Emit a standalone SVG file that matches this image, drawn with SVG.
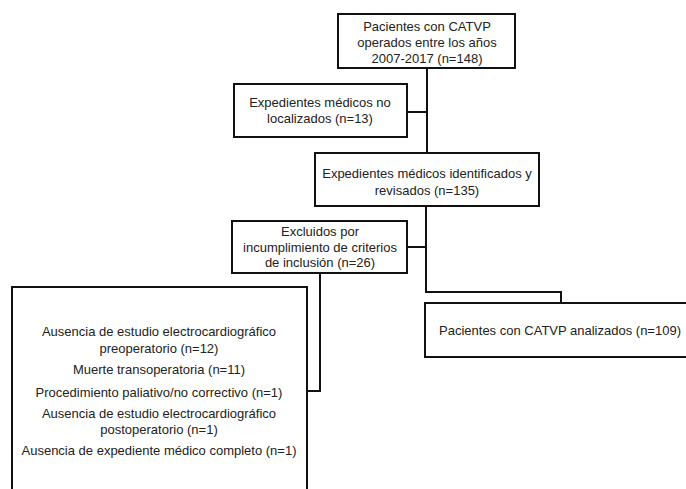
<svg xmlns="http://www.w3.org/2000/svg" width="686" height="489" viewBox="0 0 686 489">
<style>
.box{fill:#fff;stroke:#111;stroke-width:2}
.ln{fill:none;stroke:#111;stroke-width:2}
text{font-family:"Liberation Sans",Arial,sans-serif;font-size:13px;fill:#222;text-anchor:middle}
</style>
<rect width="686" height="489" fill="#fff"/>
<g id="connectors">
<path class="ln" d="M427,68 V153"/>
<path class="ln" d="M407,112 H427"/>
<path class="ln" d="M426,206 V292 H561 V303"/>
<path class="ln" d="M407,247 H426"/>
<path class="ln" d="M320,273 V391 H307"/>
</g>
<g id="n1">
<rect class="box" x="338" y="14" width="177" height="54"/>
<text x="427" y="31">Pacientes con CATVP</text>
<text x="427" y="47">operados entre los años</text>
<text x="427" y="63">2007-2017 (n=148)</text>
</g>
<g id="n2">
<rect class="box" x="234" y="84" width="173" height="53"/>
<text x="320" y="107">Expedientes médicos no</text>
<text x="320" y="123">localizados (n=13)</text>
</g>
<g id="n3">
<rect class="box" x="315" y="153" width="224" height="53"/>
<text x="427" y="178">Expedientes médicos identificados y</text>
<text x="427" y="195">revisados (n=135)</text>
</g>
<g id="n4">
<rect class="box" x="232" y="221" width="175" height="52"/>
<text x="320" y="236">Excluidos por</text>
<text x="320" y="252">incumplimiento de criterios</text>
<text x="320" y="267">de inclusión (n=26)</text>
</g>
<g id="n5">
<rect class="box" x="425" y="303" width="265" height="54"/>
<text x="560" y="335">Pacientes con CATVP analizados (n=109)</text>
</g>
<g id="n6">
<rect class="box" x="12" y="287" width="295" height="210"/>
<text x="159" y="336">Ausencia de estudio electrocardiográfico</text>
<text x="159" y="353">preoperatorio (n=12)</text>
<text x="159" y="374">Muerte transoperatoria (n=11)</text>
<text x="159" y="397">Procedimiento paliativo/no correctivo (n=1)</text>
<text x="159" y="418">Ausencia de estudio electrocardiográfico</text>
<text x="159" y="434">postoperatorio (n=1)</text>
<text x="159" y="455">Ausencia de expediente médico completo (n=1)</text>
</g>
</svg>
